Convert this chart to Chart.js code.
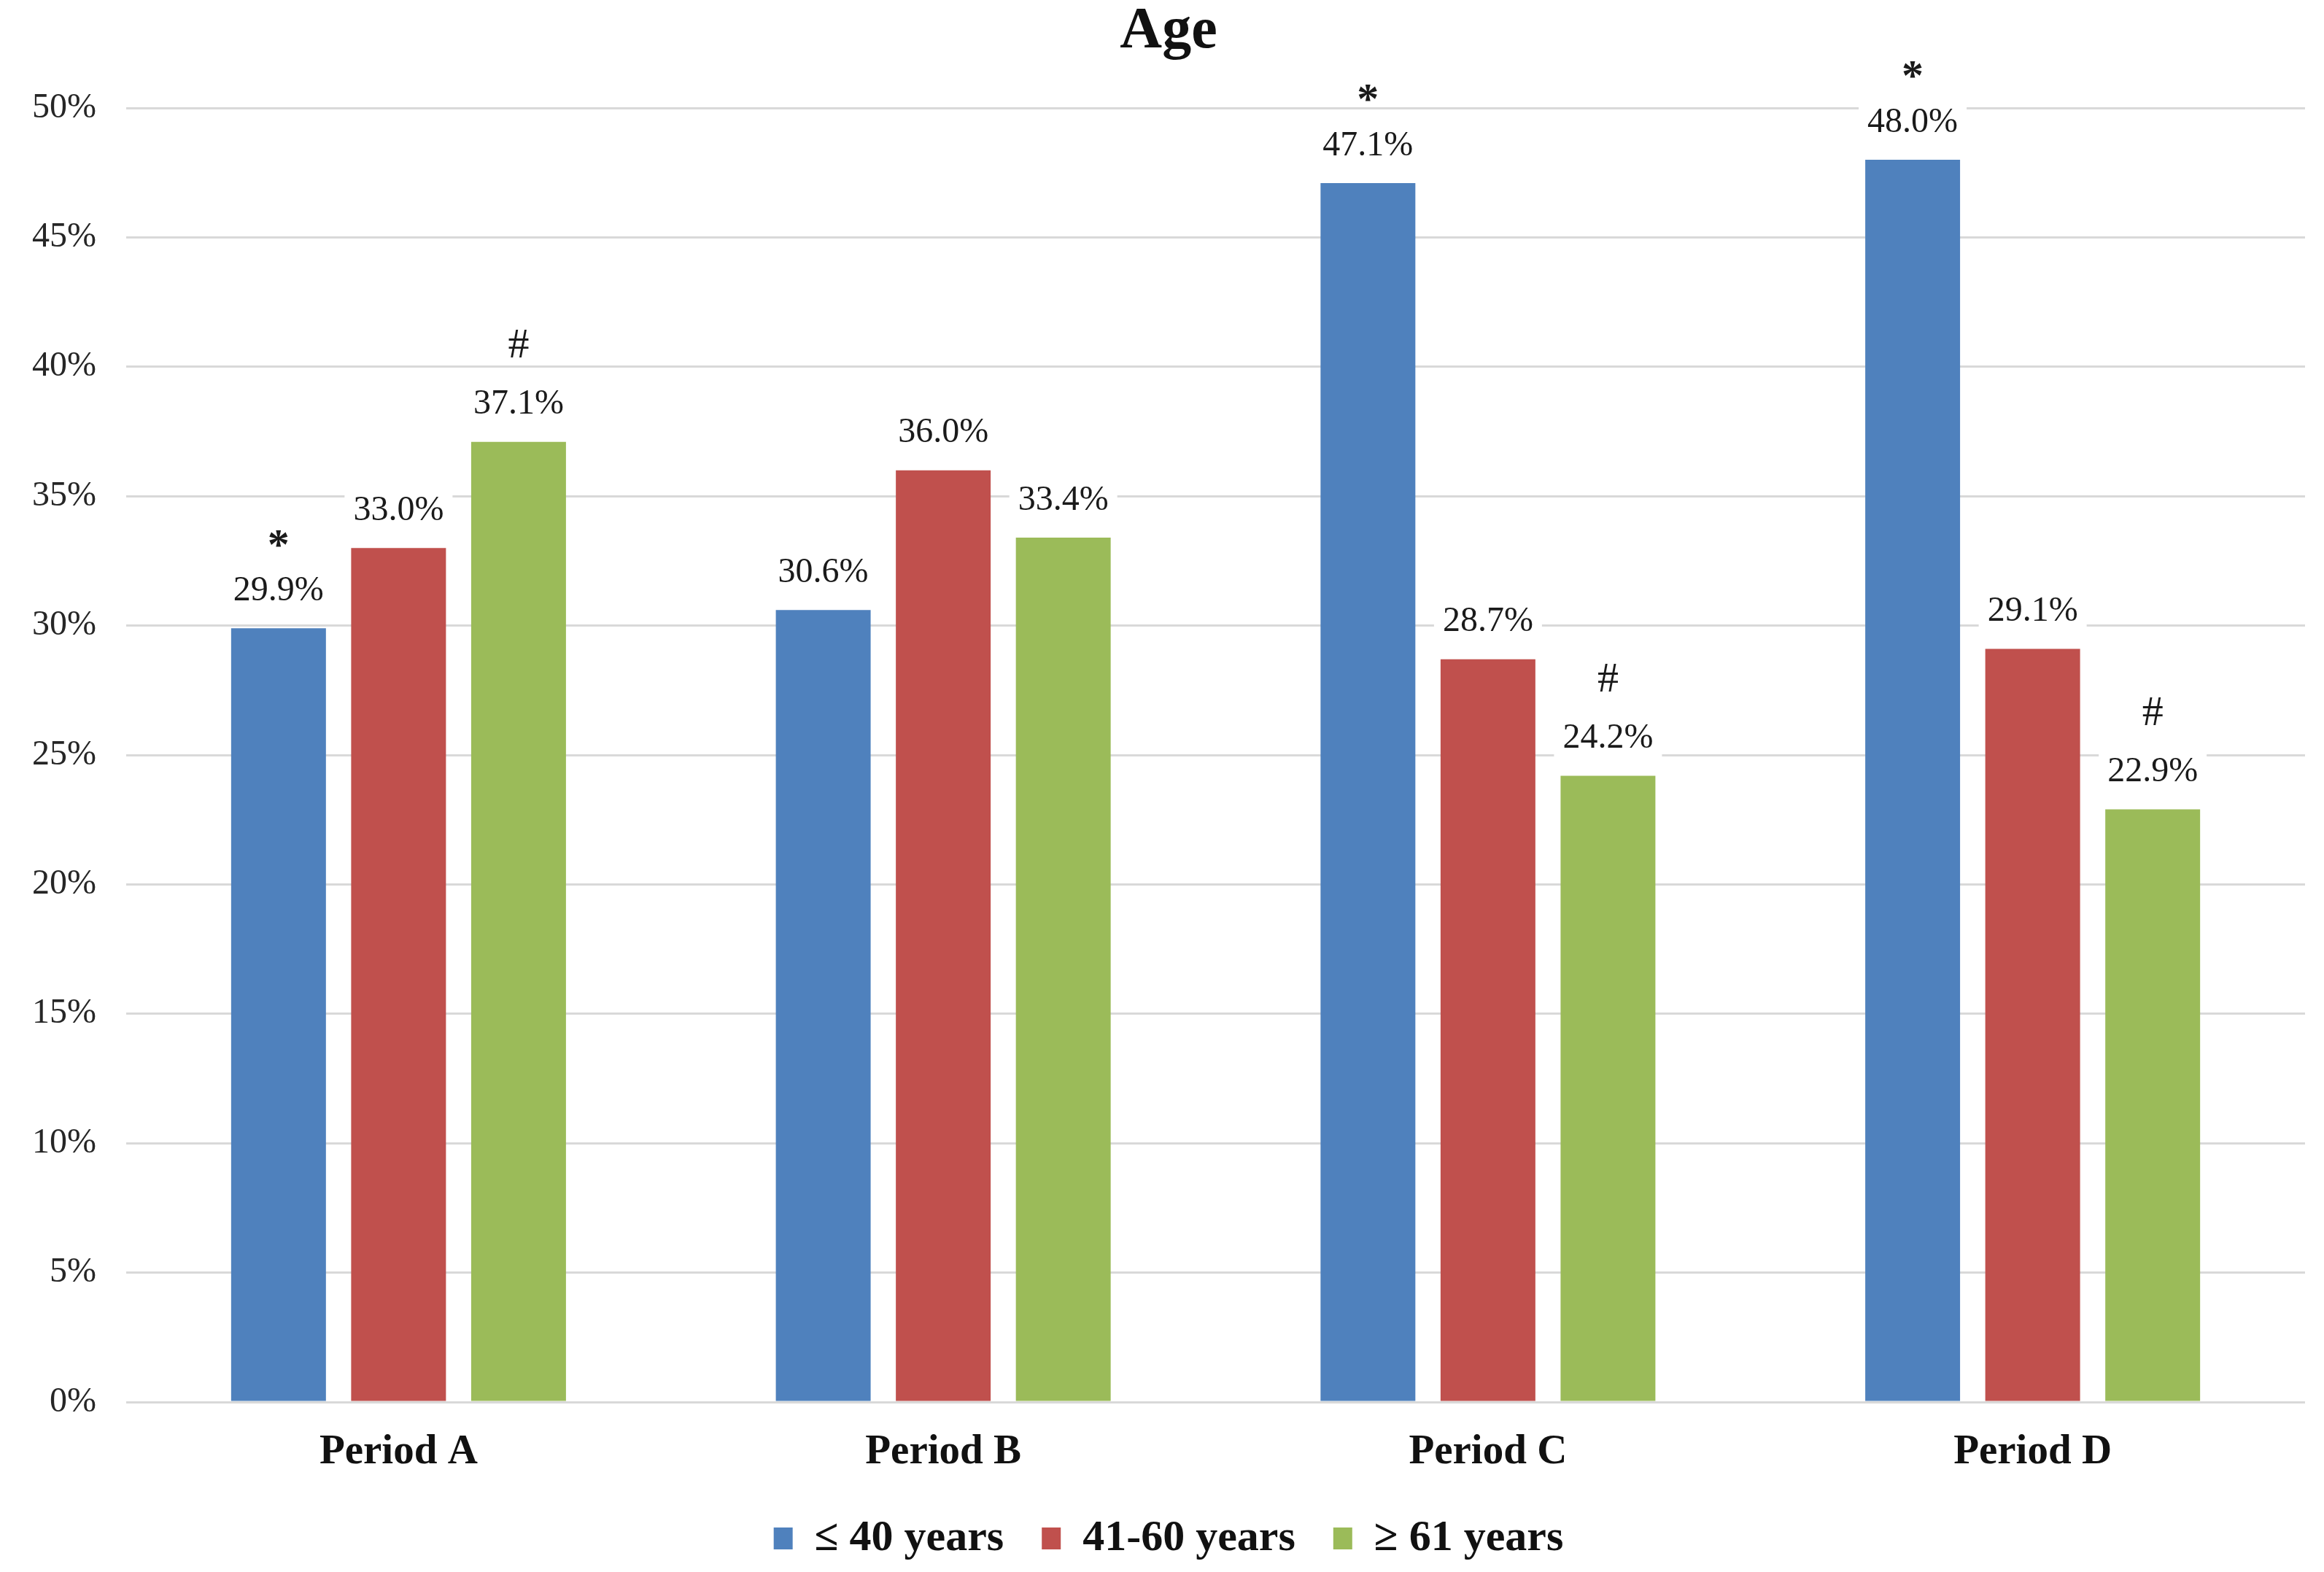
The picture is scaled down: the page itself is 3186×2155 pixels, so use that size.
<!DOCTYPE html>
<html lang="en">
<head>
    <meta charset="UTF-8">
    <title>Age</title>
    <script src="https://cdn.jsdelivr.net/npm/chart.js"></script>
    <style>
        html, body { margin: 0; padding: 0; background: #fff; overflow: hidden; }
        canvas { display: block; }
    </style>
</head>
<body>
    <canvas id="ageChart" width="3186" height="2155"></canvas>

    <script>
        const periods = ['Period A', 'Period B', 'Period C', 'Period D'];
        const seriesNames = ['≤ 40 years', '41-60 years', '≥ 61 years'];
        const young = [29.9, 30.6, 47.1, 48.0];
        const middle = [33.0, 36.0, 28.7, 29.1];
        const older = [37.1, 33.4, 24.2, 22.9];
        // significance marks drawn above the value labels
        const youngMarks = ['*', '', '*', '*'];
        const middleMarks = ['', '', '', ''];
        const olderMarks = ['#', '', '#', '#'];
        const yMin = 0, yMax = 50, yStep = 5;

        const serif = '"Liberation Serif", "Times New Roman", serif';

        const barLabels = {
            id: 'barLabels',
            afterDatasetsDraw(chart) {
                const ctx = chart.ctx;
                ctx.save();
                ctx.textAlign = 'center';
                ctx.textBaseline = 'middle';
                chart.data.datasets.forEach((ds, i) => {
                    const meta = chart.getDatasetMeta(i);
                    meta.data.forEach((bar, j) => {
                        const text = ds.data[j].toFixed(1) + '%';
                        const cy = bar.y - 51;
                        ctx.font = '48px ' + serif;
                        const w = ctx.measureText(text).width + 24;
                        ctx.fillStyle = '#fff';
                        ctx.fillRect(bar.x - w / 2, cy - 28, w, 56);
                        ctx.fillStyle = '#1a1a1a';
                        ctx.fillText(text, bar.x, cy);

                        const mark = ds.marks[j];
                        if (mark === '*') {
                            ctx.font = 'bold 60px ' + serif;
                            ctx.fillText(mark, bar.x, cy - 60);
                        } else if (mark === '#') {
                            ctx.font = '58px ' + serif;
                            ctx.fillText(mark, bar.x, cy - 80);
                        }
                    });
                });
                ctx.restore();
            }
        };

        const data = {
            labels: periods,
            datasets: [
                { label: seriesNames[0], data: young, marks: youngMarks, backgroundColor: '#4F81BD', borderWidth: 0 },
                { label: seriesNames[1], data: middle, marks: middleMarks, backgroundColor: '#C0504D', borderWidth: 0 },
                { label: seriesNames[2], data: older, marks: olderMarks, backgroundColor: '#9BBB59', borderWidth: 0 }
            ]
        };

        const config = {
            type: 'bar',
            data: data,
            plugins: [barLabels],
            options: {
                responsive: false,
                animation: false,
                devicePixelRatio: 1,
                layout: { padding: { left: 44, right: 26, top: 0, bottom: 6 } },
                datasets: {
                    bar: { categoryPercentage: 0.661, barPercentage: 0.79 }
                },
                plugins: {
                    title: {
                        display: true,
                        text: 'Age',
                        color: '#111',
                        font: { family: serif, size: 80, weight: 'bold', lineHeight: 1.0 },
                        padding: { top: 4, bottom: 64 }
                    },
                    legend: {
                        position: 'bottom',
                        labels: {
                            boxWidth: 26,
                            boxHeight: 30,
                            padding: 52,
                            color: '#111',
                            font: { family: serif, size: 60, weight: 'bold' }
                        }
                    },
                    tooltip: { enabled: false }
                },
                scales: {
                    x: {
                        grid: { display: false, drawTicks: false },
                        border: { display: false },
                        afterFit: scale => { scale.height = 105; },
                        ticks: {
                            padding: 41,
                            color: '#111',
                            font: { family: serif, size: 57, weight: 'bold', lineHeight: 0.98 }
                        }
                    },
                    y: {
                        min: yMin,
                        max: yMax,
                        grid: { color: '#d9d9d9', lineWidth: 3, drawTicks: false },
                        border: { display: false },
                        afterFit: scale => { scale.width = 129; },
                        ticks: {
                            stepSize: yStep,
                            padding: 41,
                            color: '#262626',
                            font: { family: serif, size: 48 },
                            callback: v => v + '%'
                        }
                    }
                }
            }
        };

        new Chart(document.getElementById('ageChart'), config);
    </script>
</body>
</html>
